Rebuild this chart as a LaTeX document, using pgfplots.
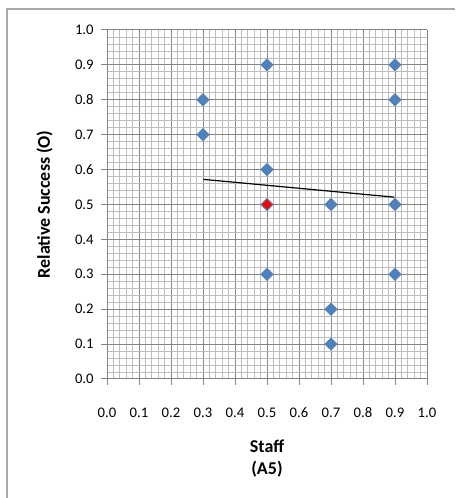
\documentclass[border=0pt]{standalone}
\usepackage{fontspec}
\setmainfont{Carlito}
\usepackage{pgfplots}
\pgfplotsset{compat=1.18}
\definecolor{mkblue}{HTML}{4F81BD}
\definecolor{majgrid}{HTML}{858585}
\definecolor{mingrid}{HTML}{BDBDBD}
\definecolor{frame}{HTML}{A8A8A8}
\begin{document}
\begin{tikzpicture}
\useasboundingbox (0pt,0pt) rectangle (341.25pt,373.5pt);
\draw[frame, line width=1.5pt] (5.25pt,0pt) -- (5.25pt,366.75pt) -- (341.25pt,366.75pt);
\begin{axis}[
  at={(80.25pt,89.25pt)}, anchor=south west,
  scale only axis, width=240pt, height=261.75pt,
  xmin=0, xmax=1, ymin=0, ymax=1,
  xtick={0,0.1,...,1.0}, ytick={0,0.1,...,1.0},
  minor tick num=4,
  grid=both,
  major grid style={majgrid, line width=0.75pt},
  minor grid style={mingrid, line width=0.6pt},
  axis line style={majgrid, line width=0.75pt},
  axis x line*=bottom, axis y line*=left,
  tick style={majgrid, line width=0.75pt},
  major tick length=4.5pt, minor tick length=0pt,
  tick align=outside,
  /pgf/number format/.cd, fixed, fixed zerofill, precision=1, assume math mode=true,
  /pgfplots/.cd,
  xticklabel style={font=\fontsize{11}{13}\selectfont, text height=1.6ex, text depth=0.2ex, yshift=-13pt},
  yticklabel style={font=\fontsize{11}{13}\selectfont, xshift=-2pt},
  xlabel={\textbf{Staff}\\\textbf{(A5)}},
  xlabel style={align=center, font=\fontsize{13.5}{16.5}\selectfont, yshift=-9pt},
  ylabel={\textbf{Relative Success (O)}},
  ylabel style={font=\fontsize{13.5}{16}\selectfont, yshift=10pt},
  clip=false,
]
\addplot[black, line width=0.9pt] coordinates {(0.301,0.572) (0.898,0.521)};
\addplot[only marks, mark=square*, mark size=3.3pt, mark options={rotate=45, fill=mkblue, draw=mkblue}]
  coordinates {(0.3,0.8) (0.3,0.7) (0.5,0.9) (0.5,0.6) (0.5,0.3) (0.5,0.5)
               (0.7,0.5) (0.7,0.2) (0.7,0.1)
               (0.9,0.9) (0.9,0.8) (0.9,0.5) (0.9,0.3)};
\addplot[only marks, mark=square*, mark size=2.5pt, mark options={rotate=45, fill=red, draw=red}]
  coordinates {(0.5,0.5)};
\end{axis}
\end{tikzpicture}
\end{document}
